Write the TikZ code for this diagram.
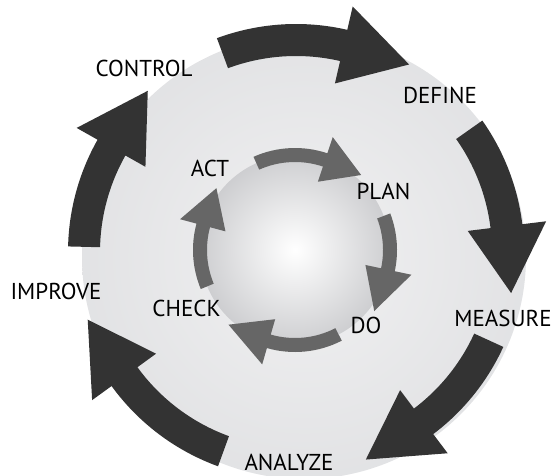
\documentclass[tikz,border=0pt]{standalone}
\usepackage{fontspec}
\setmainfont{PT Sans}
\usepackage{xcolor}
\usepackage{tikz}

\definecolor{darkarrow}{HTML}{333333}
\definecolor{midarrow}{HTML}{666666}
\definecolor{disccentre}{HTML}{F1F1F2}
\definecolor{discedge}{HTML}{D3D4D7}
\definecolor{sphereedge}{HTML}{9C9DA2}
\pgfdeclareradialshading{discshade}{\pgfpoint{0bp}{0bp}}{color(0bp)=(disccentre); color(50bp)=(discedge)}
\pgfdeclareradialshading{sphereshade}{\pgfpoint{0bp}{0bp}}{color(0bp)=(white); color(50bp)=(sphereedge)}

% ring arrow: style, ring in/out, wing in/out, tip radius, tail/base/tip angle
\newcommand{\ringarrow}[9]{%
  \fill[#1] (#7:#3pt) arc[start angle=#7, end angle=#8, radius=#3pt]
    -- (#8:#5pt) -- (#9:#6pt) -- (#8:#4pt) -- (#8:#2pt)
    arc[start angle=#8, end angle=#7, radius=#2pt] -- cycle;}

\tikzset{
  phaselabel/.style={font=\fontsize{23}{27}\selectfont, inner sep=0pt},
}

\begin{document}
\begin{tikzpicture}[x=1pt, y=1pt]
			\useasboundingbox (0, 0) rectangle (553, 475);
			\clip (0, 0) rectangle (553, 475);
			% Disc and sphere:
			\shade[shading=discshade] (304, 218) circle[radius=222pt];
			\shade[shading=sphereshade] (295, 225) circle[radius=95pt];
			% Outer cycle (DMAIC):
			\begin{scope}[shift={(296, 223)}]
				\ringarrow{darkarrow}{196}{228}{173}{252}{219}{110.3}{77}{58.9}
				\ringarrow{darkarrow}{196}{228}{173}{252}{219}{35.2}{7}{-10.8}
				\ringarrow{darkarrow}{196}{228}{173}{252}{219}{-24.6}{-53}{-71.4}
				\ringarrow{darkarrow}{196}{228}{173}{252}{219}{-110}{-144}{-162}
				\ringarrow{darkarrow}{196}{228}{173}{252}{219}{178.6}{150.5}{132.6}
			\end{scope}
			% Inner cycle (PDCA):
			\begin{scope}[shift={(295, 225)}]
				\ringarrow{midarrow}{88}{102}{72}{119}{100}{114}{71.5}{48.6}
				\ringarrow{midarrow}{88}{102}{72}{119}{100}{21}{-12}{-37.6}
				\ringarrow{midarrow}{88}{102}{72}{119}{100}{-62.7}{-106}{-131.7}
				\ringarrow{midarrow}{88}{102}{72}{119}{100}{202.5}{165}{141.8}
			\end{scope}
			% Labels:
			\node[phaselabel](define) at (440, 380){DEFINE};
			\node[phaselabel](measure) at (503, 157){MEASURE};
			\node[phaselabel](analyze) at (289, 13){ANALYZE};
			\node[phaselabel](improve) at (56, 184){IMPROVE};
			\node[phaselabel](control) at (144, 406.5){CONTROL};
			\node[phaselabel](plan) at (383.5, 284){PLAN};
			\node[phaselabel](do) at (366, 150){DO};
			\node[phaselabel](check) at (186.5, 167){CHECK};
			\node[phaselabel](act) at (210, 307){ACT};
		\end{tikzpicture}
\end{document}
